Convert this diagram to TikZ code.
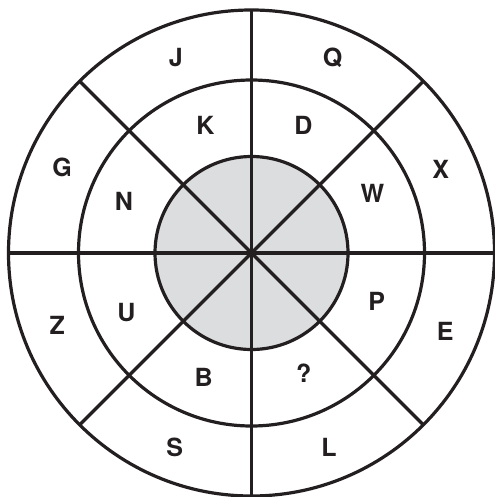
\documentclass[tikz,border=0pt]{standalone}
\usepackage{fontspec}
\usetikzlibrary{calc}
\setmainfont{TeX Gyre Heros}
\definecolor{ink}{HTML}{231F20}
\definecolor{discgray}{HTML}{DCDDDF}
\begin{document}
\begin{tikzpicture}[x=1bp,y=-1bp,
  ring/.style={draw=ink,line width=3.2bp},
  spoke/.style={draw=ink,line width=3.2bp},
  lbl/.style={inner sep=0pt,text=ink,font=\fontsize{25bp}{25bp}\selectfont\bfseries,
    text height=18bp,text depth=0pt,anchor=center}]
\useasboundingbox (0,0) rectangle (495,497);
\coordinate (c) at (251.5,253);
\fill[fill=discgray] (c) circle (96.5);
\foreach \a in {0,45,90,135}{
  \draw[spoke] ($(c)+(\a:243)$) -- ($(c)+(\a+180:243)$);
}
\draw[ring] (c) circle (96.5);
\draw[ring] (c) circle (173);
\draw[ring] (c) circle (243);
% outer ring
\node[lbl] (J) at (175.8,57.8) {J};
\node[lbl] (Q) at (332.7,57.8) {Q};
\node[lbl] (G) at (62.2,167.8) {G};
\node[lbl] (X) at (440.8,170) {X};
\node[lbl] (Z) at (57.2,325) {Z};
\node[lbl] (E) at (445.3,331.7) {E};
\node[lbl] (S) at (174.7,447.2) {S};
\node[lbl] (L) at (329,447.5) {L};
% middle ring
\node[lbl] (K) at (205.5,125.8) {K};
\node[lbl] (D) at (303.3,125.2) {D};
\node[lbl] (N) at (123.8,201.3) {N};
\node[lbl] (W) at (372.5,193.3) {W};
\node[lbl] (U) at (126.5,312.5) {U};
\node[lbl] (P) at (376.7,301.2) {P};
\node[lbl] (B) at (203.7,377.8) {B};
\node[lbl] (q) at (303.7,373.8) {?};
\end{tikzpicture}
\end{document}
